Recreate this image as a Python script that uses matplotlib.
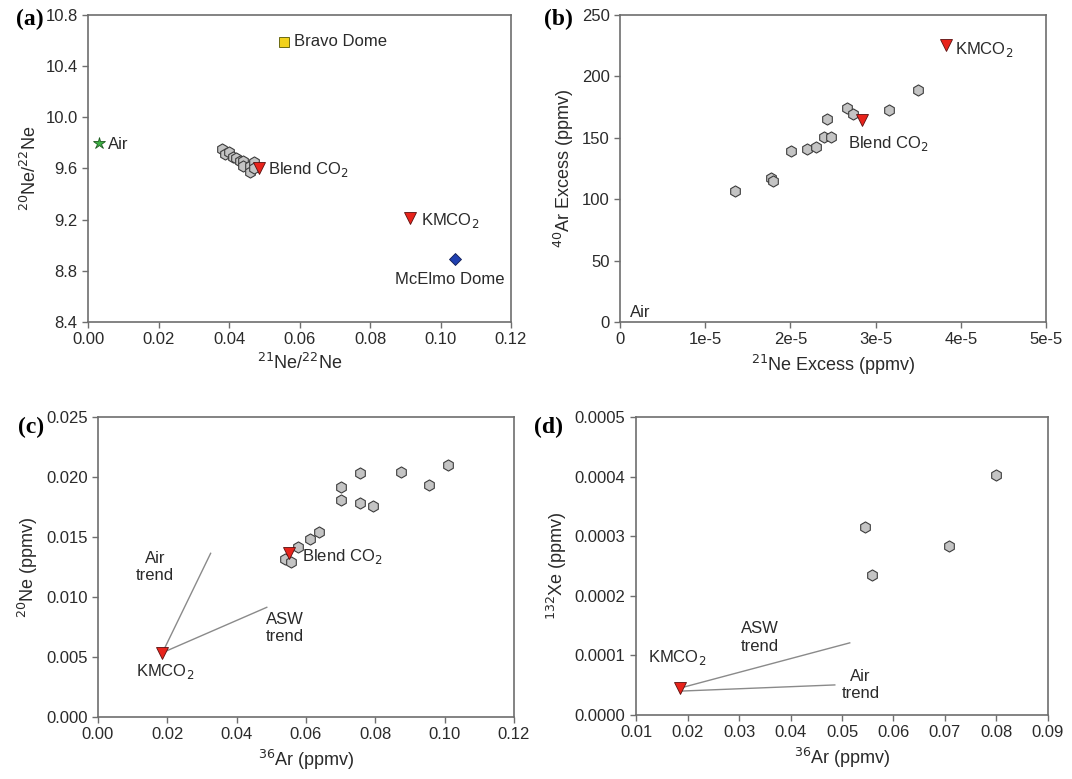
import numpy as np
import matplotlib
matplotlib.use("Agg")
import matplotlib.pyplot as plt

plt.rcParams['font.family'] = ['Liberation Sans', 'DejaVu Sans']
plt.rcParams['font.size'] = 12

# ---- data ----
# (a) 21Ne/22Ne vs 20Ne/22Ne
a_x = [0.038, 0.039, 0.040, 0.041, 0.042, 0.043, 0.044, 0.044, 0.046, 0.046, 0.047, 0.047]
a_y = [9.75, 9.71, 9.73, 9.69, 9.68, 9.66, 9.66, 9.62, 9.62, 9.57, 9.65, 9.60]
air_a = (0.003, 9.80)
bravo_a = (0.0555, 10.59)
blend_a = (0.0485, 9.605)
kmco2_a = (0.0913, 9.21)
mcelmo_a = (0.104, 8.89)

# (b) 21Ne excess vs 40Ar excess
b_x = [1.35e-5, 1.77e-5, 1.80e-5, 2.01e-5, 2.20e-5, 2.30e-5, 2.39e-5, 2.48e-5,
       2.43e-5, 2.66e-5, 2.74e-5, 3.16e-5, 3.50e-5]
b_y = [106.9, 117.0, 114.8, 139.5, 141.1, 142.2, 150.4, 150.4,
       165.3, 174.0, 169.4, 172.6, 189.0]
blend_b = (2.84e-5, 164.5)
kmco2_b = (3.83e-5, 225.6)

# (c) 36Ar vs 20Ne
c_x = [0.1011, 0.0874, 0.0756, 0.0955, 0.0700, 0.0700, 0.0756, 0.0793,
       0.0639, 0.0612, 0.0578, 0.0540, 0.0556]
c_y = [0.0210, 0.0204, 0.0203, 0.0193, 0.0192, 0.0181, 0.0178, 0.0176,
       0.0154, 0.0148, 0.0142, 0.0132, 0.0129]
blend_c = (0.0552, 0.0137)
kmco2_c = (0.0186, 0.00536)
air_trend_c = ([0.0186, 0.0325], [0.00536, 0.01364])
asw_trend_c = ([0.0186, 0.0487], [0.00536, 0.00914])

# (d) 36Ar vs 132Xe
d_x = [0.0799, 0.0544, 0.0559, 0.0707]
d_y = [0.000402, 0.000316, 0.000235, 0.000284]
kmco2_d = (0.0185, 0.000045)
asw_trend_d = ([0.0185, 0.0515], [0.000045, 0.000121])
air_trend_d = ([0.0185, 0.0486], [0.000040, 0.0000504])

b_ticks = [0, 1e-5, 2e-5, 3e-5, 4e-5, 5e-5]
b_ticklabels = ['0', '1e-5', '2e-5', '3e-5', '4e-5', '5e-5']

HEX = dict(marker='h', ms=8, mfc='#c4c4c4', mec='#3c3c3c', mew=0.8, ls='none')
TRI = dict(marker='v', ms=9, mfc='#e8231b', mec='#5a1010', mew=0.6, ls='none')
SPINE = '#6e6e6e'
TXT = '#2a2a2a'
FS = 12
W, H = 1072, 779


def style(ax):
    for s in ax.spines.values():
        s.set_color(SPINE)
        s.set_linewidth(1.2)
    ax.tick_params(direction='out', length=4, width=1, color=SPINE,
                   labelsize=FS, labelcolor=TXT)


def note(ax, x, y, txt, **kw):
    ax.text(x, y, txt, fontsize=FS, color=TXT, va='center', linespacing=1.2, **kw)


def letter(txt, x_px, y_px):
    # panel letters sit left of the top tick label, placed in figure pixels
    fig.text(x_px / W, 1 - y_px / H, txt, ha='right', va='center',
             fontsize=17, fontweight='bold', family='Liberation Serif')


fig = plt.figure(figsize=(10.72, 7.79), dpi=100)

# ---- (a) ----
ax = fig.add_axes([0.0821, 0.5867, 0.3946, 0.3941])
ax.plot(a_x, a_y, **HEX)
ax.plot(*air_a, marker='*', ms=9, mfc='#3cb043', mec='#1e5a20', mew=0.6, ls='none')
ax.plot(*bravo_a, marker='s', ms=7, mfc='#f2d21b', mec='#555500', mew=0.6, ls='none')
ax.plot(*blend_a, **TRI)
ax.plot(*kmco2_a, **TRI)
ax.plot(*mcelmo_a, marker='D', ms=6, mfc='#2040b0', mec='#101a50', mew=0.6, ls='none')
note(ax, 0.0585, 10.59, 'Bravo Dome')
note(ax, 0.0058, 9.79, 'Air')
note(ax, 0.0512, 9.59, 'Blend CO$_2$')
note(ax, 0.0945, 9.19, 'KMCO$_2$')
note(ax, 0.1025, 8.73, 'McElmo Dome', ha='center')
ax.set_xlim(0, 0.12)
ax.set_ylim(8.4, 10.8)
ax.set_xticks(np.arange(0, 0.121, 0.02))
ax.set_yticks(np.arange(8.4, 10.81, 0.4))
ax.xaxis.set_major_formatter(plt.FormatStrFormatter('%.2f'))
ax.yaxis.set_major_formatter(plt.FormatStrFormatter('%.1f'))
ax.set_xlabel('$^{21}$Ne/$^{22}$Ne', fontsize=13, color=TXT)
ax.set_ylabel('$^{20}$Ne/$^{22}$Ne', fontsize=13, color=TXT)
style(ax)
letter('(a)', 44, 19)

# ---- (b) ----
ax = fig.add_axes([0.5784, 0.5867, 0.3974, 0.3941])
ax.plot(b_x, b_y, **HEX)
ax.plot(*blend_b, **TRI)
ax.plot(*kmco2_b, **TRI)
note(ax, 3.93e-5, 222, 'KMCO$_2$')
note(ax, 2.68e-5, 145, 'Blend CO$_2$')
note(ax, 0.12e-5, 8, 'Air')
ax.set_xlim(0, 5e-5)
ax.set_ylim(0, 250)
ax.set_xticks(b_ticks)
ax.set_xticklabels(b_ticklabels)
ax.set_yticks(np.arange(0, 251, 50))
ax.set_xlabel('$^{21}$Ne Excess (ppmv)', fontsize=13, color=TXT)
ax.set_ylabel('$^{40}$Ar Excess (ppmv)', fontsize=13, color=TXT)
style(ax)
letter('(b)', 573, 19)

# ---- (c) ----
ax = fig.add_axes([0.0914, 0.0796, 0.388, 0.3851])
ax.plot(*air_trend_c, color='#8a8a8a', lw=1)
ax.plot(*asw_trend_c, color='#8a8a8a', lw=1)
ax.plot(c_x, c_y, **HEX)
ax.plot(*blend_c, **TRI)
ax.plot(*kmco2_c, **TRI)
note(ax, 0.059, 0.0134, 'Blend CO$_2$')
note(ax, 0.0164, 0.0125, 'Air\ntrend', ha='center')
note(ax, 0.054, 0.0074, 'ASW\ntrend', ha='center')
note(ax, 0.0194, 0.0038, 'KMCO$_2$', ha='center')
ax.set_xlim(0, 0.12)
ax.set_ylim(0, 0.025)
ax.set_xticks(np.arange(0, 0.121, 0.02))
ax.set_yticks(np.arange(0, 0.0251, 0.005))
ax.xaxis.set_major_formatter(plt.FormatStrFormatter('%.2f'))
ax.yaxis.set_major_formatter(plt.FormatStrFormatter('%.3f'))
ax.set_xlabel('$^{36}$Ar (ppmv)', fontsize=13, color=TXT)
ax.set_ylabel('$^{20}$Ne (ppmv)', fontsize=13, color=TXT)
style(ax)
letter('(c)', 44, 427)

# ---- (d) ----
ax = fig.add_axes([0.5933, 0.0822, 0.3843, 0.3825])
ax.plot(*asw_trend_d, color='#8a8a8a', lw=1)
ax.plot(*air_trend_d, color='#8a8a8a', lw=1)
ax.plot(d_x, d_y, **HEX)
ax.plot(*kmco2_d, **TRI)
note(ax, 0.034, 0.00013, 'ASW\ntrend', ha='center')
note(ax, 0.0536, 0.00005, 'Air\ntrend', ha='center')
note(ax, 0.018, 0.000096, 'KMCO$_2$', ha='center')
ax.set_xlim(0.01, 0.09)
ax.set_ylim(0, 0.0005)
ax.set_xticks(np.arange(0.01, 0.0901, 0.01))
ax.set_yticks(np.arange(0, 0.00051, 0.0001))
ax.xaxis.set_major_formatter(plt.FormatStrFormatter('%.2f'))
ax.yaxis.set_major_formatter(plt.FormatStrFormatter('%.4f'))
ax.set_xlabel('$^{36}$Ar (ppmv)', fontsize=13, color=TXT)
ax.set_ylabel('$^{132}$Xe (ppmv)', fontsize=13, color=TXT)
style(ax)
letter('(d)', 563, 427)

fig.savefig('out.png', dpi=100)
